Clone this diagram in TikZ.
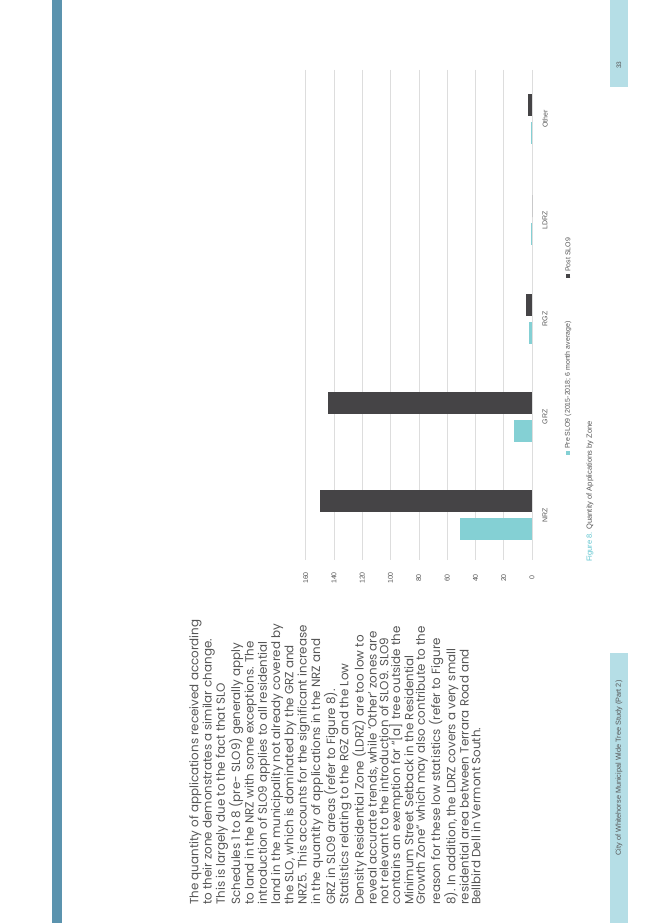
\documentclass[tikz,border=0pt]{standalone}
\usepackage{fontspec}
\setmainfont{Poppins}
\newfontfamily\capfont{Liberation Sans}
\usepackage{xcolor}
\definecolor{barblue}{HTML}{5B93AE}
\definecolor{stripcyan}{HTML}{B5DEE6}
\definecolor{precol}{HTML}{84D0D4}
\definecolor{postcol}{HTML}{454446}
\definecolor{bodytext}{HTML}{555555}
\definecolor{gridcol}{HTML}{DDDDDD}
\definecolor{figcyan}{HTML}{5CC3CE}
\tikzset{
  bodypara/.style={rotate=90,anchor=north west,inner sep=0pt,align=left,
    text=bodytext,font=\fontsize{11.9}{13.3}\selectfont},
  axislabel/.style={rotate=90,inner sep=0pt,text=bodytext,font=\capfont\fontsize{7}{8}\selectfont},
  prebar/.style={fill=precol,draw=none},
  postbar/.style={fill=postcol,draw=none}
}
\begin{document}
\begin{tikzpicture}[x=1pt,y=-1pt]
\useasboundingbox (0,0) rectangle (653,923);
% page furniture
\fill[barblue] (52,0) rectangle (62,923);
\fill[stripcyan] (610,0) rectangle (628,87);
\fill[stripcyan] (610,653) rectangle (628,923);
\node[axislabel,font=\capfont\fontsize{6.5}{7}\selectfont] (pageno) at (619,65) {33};
\node[axislabel,font=\capfont\fontsize{7.3}{8}\selectfont] (footer) at (619,768)
  {City of Whitehorse Municipal Wide Tree Study (Part 2)};
% body text
\node[bodypara] (para1) at (189,905) {The quantity of applications received according\\
to their zone demonstrates a similar change.\\
This is largely due to the fact that SLO\\
Schedules 1 to 8 (pre- SLO9) generally apply\\
to land in the NRZ with some exceptions. The\\
introduction of SLO9 applies to all residential\\
land in the municipality not already covered by\\
the SLO, which is dominated by the GRZ and\\
NRZ5. This accounts for the significant increase\\
in the quantity of applications in the NRZ and\\
GRZ in SLO9 areas (refer to Figure 8).};
\node[bodypara,font=\fontsize{11.9}{11.7}\selectfont] (para2) at (339,905) {Statistics relating to the RGZ and the Low\\
Density Residential Zone (LDRZ) are too low to\\
reveal accurate trends, while ‘Other’ zones are\\
not relevant to the introduction of SLO9. SLO9\\
contains an exemption for “[a] tree outside the\\
Minimum Street Setback in the Residential\\
Growth Zone” which may also contribute to the\\
reason for these low statistics (refer to Figure\\
8). In addition, the LDRZ covers a very small\\
residential area between Terrara Road and\\
Bellbird Dell in Vermont South.};
% chart grid and value axis
\foreach \v in {0,20,...,160}{
  \draw[gridcol,line width=0.5pt] ({532-1.415*\v},70) -- ({532-1.415*\v},560);
  \node[axislabel] (tick\v) at ({532-1.415*\v},578) {\v};
}
% bars: name/centre/pre/post
\foreach \z/\c/\pre/\post in {NRZ/515/51/150,GRZ/417/13/144,RGZ/319/2/4,LDRZ/220/0.5/0,Other/119/1/3}{
  \fill[prebar] (532,\c+3) rectangle ({532-1.415*\pre},\c+25);
  \fill[postbar] (532,\c-25) rectangle ({532-1.415*\post},\c-3);
  \node[axislabel] (cat\z) at (545,\c) {\z};
}
% legend and caption
\node[axislabel,anchor=west] (legpre) at (568,455)
  {\textcolor{precol}{\rule{4pt}{4pt}} Pre SLO9 (2015-2018; 6 month average)};
\node[axislabel,anchor=west] (legpost) at (568,278)
  {\textcolor{postcol}{\rule{4pt}{4pt}} Post SLO9};
\node[axislabel,anchor=west,font=\capfont\fontsize{7.5}{8}\selectfont] (caption) at (590,562)
  {\textcolor{figcyan}{Figure 8.} Quantity of Applications by Zone};
\end{tikzpicture}
\end{document}
